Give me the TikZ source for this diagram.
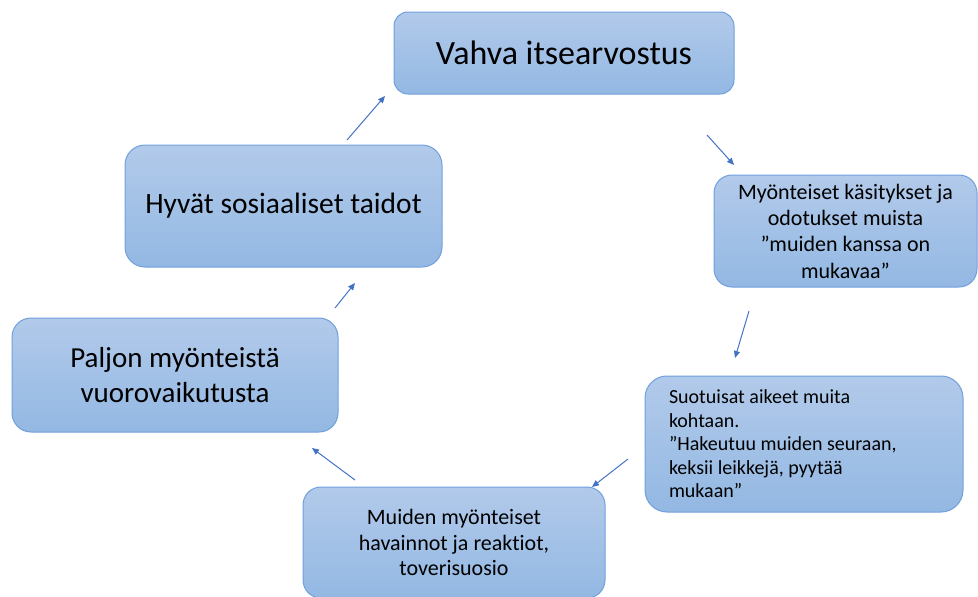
\documentclass[tikz,border=0pt]{standalone}
\usepackage{fontspec}
\setmainfont{Carlito}[Ligatures={NoCommon}]
\usetikzlibrary{arrows.meta}
\definecolor{boxtop}{RGB}{178,202,234}
\definecolor{boxbot}{RGB}{147,184,227}
\definecolor{boxline}{RGB}{112,160,220}
\definecolor{arrcol}{RGB}{68,114,196}
\tikzset{
  cbox/.style={draw=boxline, line width=1pt, top color=boxtop, bottom color=boxbot,
    rounded corners=#1, inner sep=0pt, align=center, text=black},
  cbox/.default=16pt,
  arr/.style={draw=arrcol, line width=1pt, -{Triangle[length=7pt,width=6pt]}}
}
\begin{document}
\begin{tikzpicture}[x=1pt,y=-1pt]
\useasboundingbox (0,0) rectangle (978,597);
% boxes
\node[cbox=14pt, minimum width=340pt, minimum height=82pt, font={\fontsize{34}{40}\selectfont}] (vahva) at (564,53)
  {Vahva itsearvostus};
\node[cbox=18pt, minimum width=263pt, minimum height=112pt, font={\fontsize{22}{26.3}\selectfont}] (kasit) at (845.5,231)
  {Myönteiset käsitykset ja\\ odotukset muista\\ ”muiden kanssa on\\ mukavaa”};
\node[cbox=22pt, minimum width=318pt, minimum height=136pt, text width=270pt, inner xsep=24pt, align=flush left, font={\fontsize{20}{23.5}\selectfont}] (suot) at (804,444)
  {Suotuisat aikeet muita\\ kohtaan.\\ ”Hakeutuu muiden seuraan,\\ keksii leikkejä, pyytää\\ mukaan”};
\node[cbox=18pt, minimum width=302pt, minimum height=111pt, font={\fontsize{22}{25.5}\selectfont}] (muiden) at (454,542.5)
  {Muiden myönteiset\\ havainnot ja reaktiot,\\ toverisuosio};
\node[cbox=19pt, minimum width=326pt, minimum height=114pt, font={\fontsize{29}{35}\selectfont}] (paljon) at (175,375)
  {Paljon myönteistä\\ vuorovaikutusta};
\node[cbox=20pt, minimum width=317pt, minimum height=122pt, font={\fontsize{29.5}{35}\selectfont}] (hyvat) at (283.5,206)
  {Hyvät sosiaaliset taidot};
% arrow end points
\coordinate (a1s) at (347,140); \coordinate (a1e) at (385,96);
\coordinate (a2s) at (707,135); \coordinate (a2e) at (734,165);
\coordinate (a3s) at (749,311); \coordinate (a3e) at (735,358);
\coordinate (a4s) at (628,459); \coordinate (a4e) at (592,487);
\coordinate (a5s) at (355,480); \coordinate (a5e) at (312,448);
\coordinate (a6s) at (335,308); \coordinate (a6e) at (355,283);
\draw[arr] (a1s) -- (a1e);
\draw[arr] (a2s) -- (a2e);
\draw[arr] (a3s) -- (a3e);
\draw[arr] (a4s) -- (a4e);
\draw[arr] (a5s) -- (a5e);
\draw[arr] (a6s) -- (a6e);
\end{tikzpicture}
\end{document}
